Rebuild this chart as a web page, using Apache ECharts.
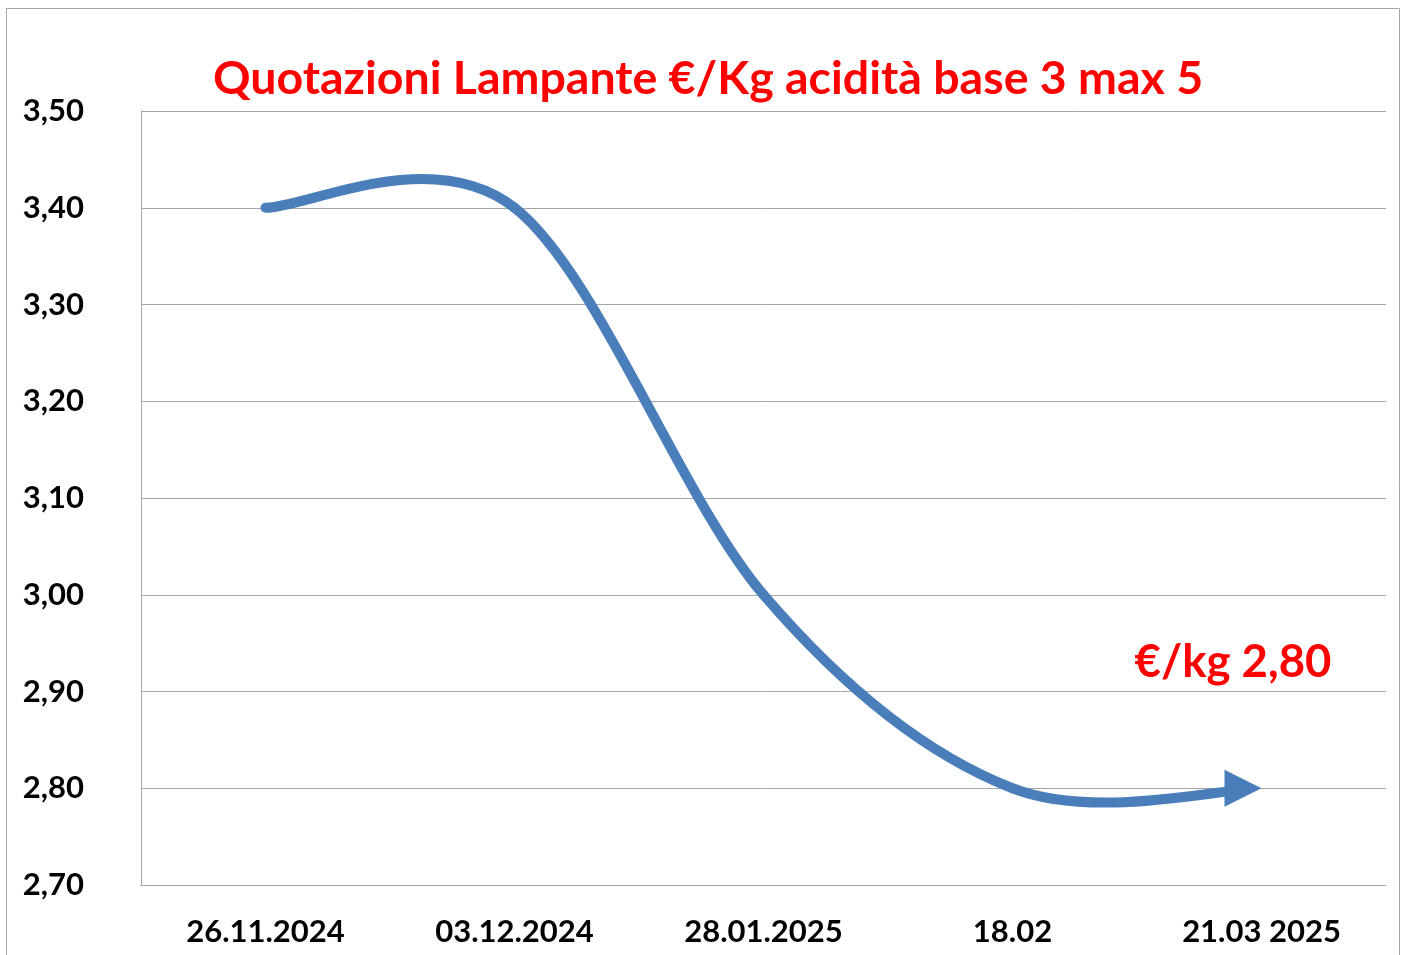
<!DOCTYPE html>
<html>
<head>
<meta charset="utf-8">
<script src="https://cdn.jsdelivr.net/npm/echarts@6/dist/echarts.min.js"></script>
<style>
html,body{margin:0;padding:0;background:#fff;}
#chart{width:1405px;height:955px;}
</style>
</head>
<body>
<div id="chart"></div>
<script>
const categories = ['26.11.2024', '03.12.2024', '28.01.2025', '18.02', '21.03 2025'];
const prices = [3.40, 3.40, 3.00, 2.80, 2.80];
const titleText = 'Quotazioni Lampante €/Kg acidità base 3 max 5';
const noteText = '€/kg 2,80';

const FONT = 'Lato';
const chart = echarts.init(document.getElementById('chart'));
const n = prices.length;

function lerp(a, b, t) { return [a[0] + (b[0] - a[0]) * t, a[1] + (b[1] - a[1]) * t]; }

function renderSeg(params, api) {
  const i = params.dataIndex;
  const color = '#4a7ebb';
  if (i === n - 1) {
    const p = api.coord([i, prices[i]]);
    return {
      type: 'polygon',
      shape: { points: [[p[0], p[1]], [p[0] - 37, p[1] - 18.5], [p[0] - 37, p[1] + 18.5]] },
      style: { fill: color }
    };
  }
  const p1 = api.coord([i, prices[i]]);
  const p2 = api.coord([i + 1, prices[i + 1]]);
  const p0 = i > 0 ? api.coord([i - 1, prices[i - 1]]) : p1;
  const p3 = i + 2 < n ? api.coord([i + 2, prices[i + 2]]) : p2;
  let a = p1;
  let b = [p1[0] + (p2[0] - p0[0]) / 6, p1[1] + (p2[1] - p0[1]) / 6];
  let c = [p2[0] - (p3[0] - p1[0]) / 6, p2[1] - (p3[1] - p1[1]) / 6];
  let d = p2;
  const last = i === n - 2;
  if (last) {
    // stop the stroke under the arrow head (de Casteljau split)
    const t = 0.86;
    const ab = lerp(a, b, t), bc = lerp(b, c, t), cd = lerp(c, d, t);
    const abc = lerp(ab, bc, t), bcd = lerp(bc, cd, t);
    const abcd = lerp(abc, bcd, t);
    b = ab; c = abc; d = abcd;
  }
  return {
    type: 'bezierCurve',
    shape: { x1: a[0], y1: a[1], x2: d[0], y2: d[1], cpx1: b[0], cpy1: b[1], cpx2: c[0], cpy2: c[1] },
    style: { fill: 'none', stroke: color, lineWidth: 10, lineCap: last ? 'butt' : 'round' }
  };
}

chart.setOption({
  animation: false,
  backgroundColor: '#fff',
  grid: { left: 141, right: 19, top: 111, bottom: 70, containLabel: false },
  xAxis: {
    type: 'category',
    data: categories,
    boundaryGap: true,
    axisLine: { show: true, lineStyle: { color: '#a6a6a6', width: 1 } },
    axisTick: { show: false },
    axisLabel: { color: '#000', fontFamily: FONT, fontWeight: 'bold', fontSize: 31, margin: 31, interval: 0 },
    splitLine: { show: false }
  },
  yAxis: {
    type: 'value',
    min: 2.7, max: 3.5, interval: 0.1,
    axisLine: { show: true, lineStyle: { color: '#a6a6a6', width: 1 } },
    axisTick: { show: false },
    axisLabel: {
      color: '#000', fontFamily: FONT, fontWeight: 'bold', fontSize: 31, margin: 57,
      formatter: v => v.toFixed(2).replace('.', ',')
    },
    splitLine: { show: true, lineStyle: { color: '#a6a6a6', width: 1 } }
  },
  series: [{
    type: 'custom',
    renderItem: renderSeg,
    data: prices.map((v, i) => [i, v]),
    encode: { x: 0, y: 1 },
    clip: false,
    z: 5
  }],
  graphic: [
    { type: 'rect', shape: { x: 6.5, y: 8.5, width: 1393, height: 980 },
      style: { fill: 'none', stroke: '#a6a6a6', lineWidth: 1 }, silent: true, z: -1 },
    { type: 'text', x: 708, y: 79,
      style: { text: titleText, fill: '#ff0000', font: 'bold 46.5px ' + FONT, textAlign: 'center', textVerticalAlign: 'middle' } },
    { type: 'text', x: 1233, y: 662,
      style: { text: noteText, fill: '#ff0000', font: 'bold 45.5px ' + FONT, textAlign: 'center', textVerticalAlign: 'middle' } }
  ]
});
</script>
</body>
</html>
